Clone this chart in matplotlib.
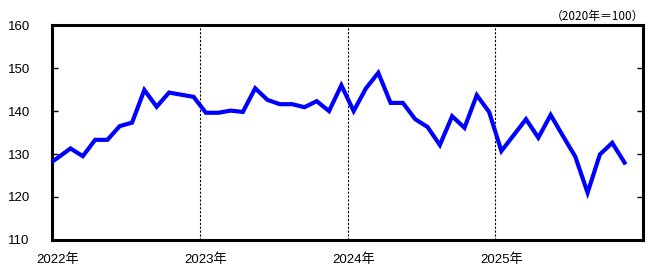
import matplotlib
matplotlib.use("Agg")
import matplotlib.pyplot as plt
import numpy as np

plt.rcParams['font.family'] = ['Liberation Sans', 'Noto Sans CJK JP', 'DejaVu Sans']

# Monthly index (2020 = 100), Dec 2021 .. Nov 2025
start_month = "2021-12"
values = [
    127.2,                                                                          # 2021-12
    129.2, 131.3, 129.5, 133.3, 133.3, 136.5, 137.3, 144.9, 141.0, 144.3, 143.8, 143.3,  # 2022
    139.6, 139.6, 140.1, 139.8, 145.3, 142.6, 141.6, 141.6, 140.9, 142.3, 140.0, 146.0,  # 2023
    140.0, 145.3, 148.9, 141.9, 141.9, 138.1, 136.3, 132.1, 138.8, 136.1, 143.7, 139.8,  # 2024
    130.7, 134.4, 138.1, 133.8, 139.1, 134.2, 129.4, 121.0, 129.9, 132.6, 128.0,         # 2025
]
years = ["2022年", "2023年", "2024年", "2025年"]
y_ticks = [110, 120, 130, 140, 150, 160]
note = "（2020年＝100）"

fig = plt.figure(figsize=(6.67, 2.73), dpi=100)
ax = fig.add_axes([0.078, 0.121, 0.886, 0.787])

# month centres: Jan 2022 sits at 0.5
x = np.arange(len(values)) - 0.5
ax.plot(x, values, color="#0000ff", linewidth=3.0, solid_joinstyle="miter", zorder=3)

for b in range(1, len(years)):
    ax.axvline(12 * b, color="black", linewidth=0.8, linestyle=(0, (2, 1.5)), zorder=1)

ax.set_xlim(0, 48)
ax.set_ylim(110, 160)
ax.set_yticks(y_ticks)
ax.set_yticklabels([str(t) for t in y_ticks], fontsize=9.5)
ax.tick_params(axis="y", direction="in", length=4, width=1, pad=16,
               right=True, colors="black")
ax.set_xticks([12 * i + 0.5 for i in range(len(years))])
ax.set_xticklabels(years, fontsize=9.5)
ax.tick_params(axis="x", length=0, pad=10)

for s in ax.spines.values():
    s.set_linewidth(2.2)
    s.set_color("black")

fig.text(0.966, 0.94, note, ha="right", va="center", fontsize=8.5,
         family=['Noto Sans CJK JP', 'DejaVu Sans'])

fig.savefig("out.png", dpi=100)
